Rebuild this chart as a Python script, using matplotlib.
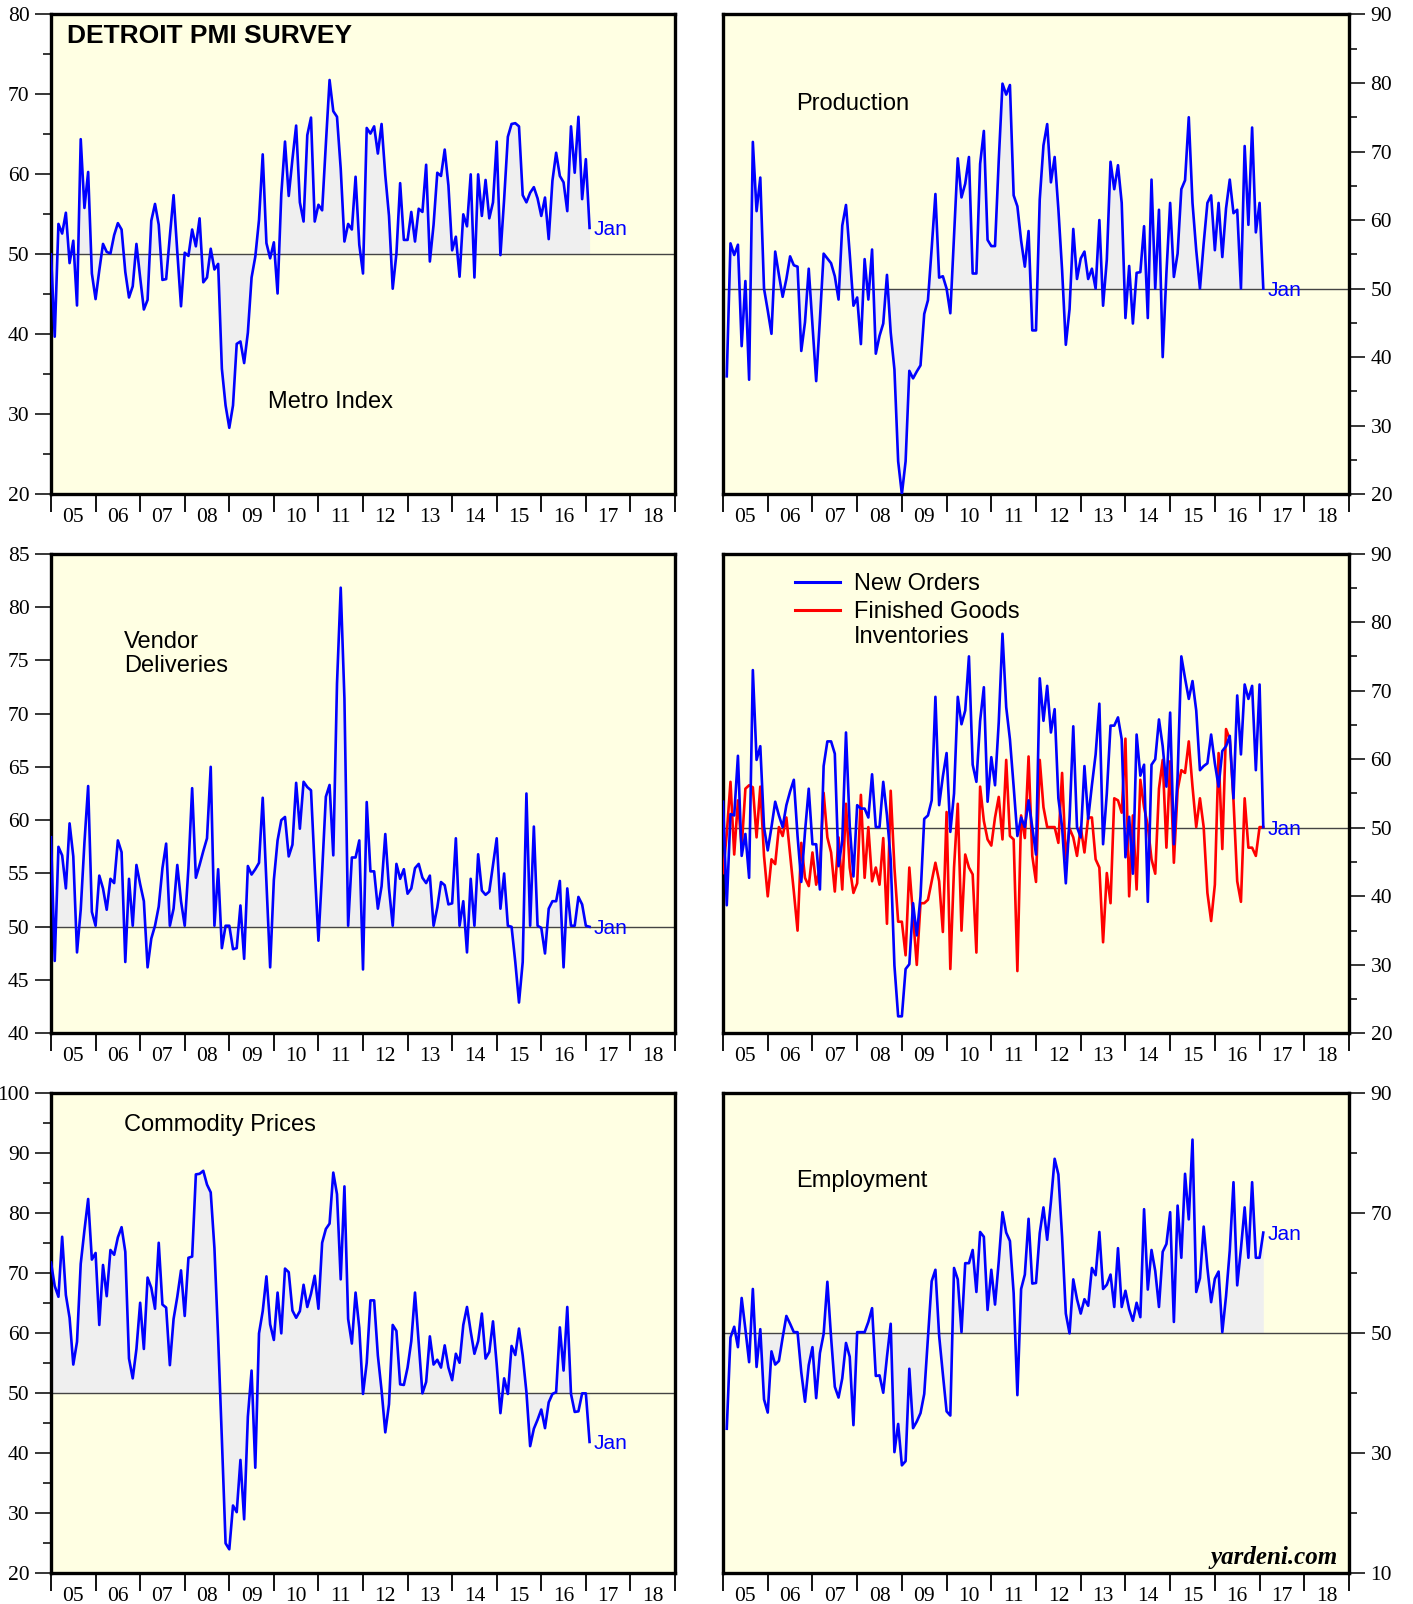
import numpy as np
import pandas as pd
import matplotlib
matplotlib.use("Agg")
import matplotlib.pyplot as plt
from matplotlib.lines import Line2D
from matplotlib.transforms import offset_copy

# Detroit PMI survey, monthly readings
metro = [50.0, 39.7, 53.8, 52.6, 55.2, 48.9, 51.7, 43.6, 64.4, 55.8, 60.3, 47.6,
         44.4, 48.0, 51.3, 50.3, 50.1, 52.4, 53.9, 53.1, 47.8, 44.6, 46.0, 51.3,
         47.1, 43.1, 44.3, 54.2, 56.3, 53.7, 46.8, 46.9, 52.3, 57.4, 50.3, 43.5,
         50.2, 49.8, 53.1, 51.0, 54.5, 46.5, 47.1, 50.7, 48.1, 48.8, 35.7, 31.1,
         28.3, 31.1, 38.8, 39.1, 36.4, 40.2, 47.1, 49.7, 54.3, 62.5, 51.4, 49.5,
         51.5, 45.1, 57.5, 64.1, 57.3, 61.9, 66.1, 56.5, 54.1, 64.9, 67.1, 54.1,
         56.2, 55.5, 63.8, 71.8, 67.9, 67.2, 60.7, 51.6, 53.8, 53.1, 59.7, 51.2,
         47.6, 65.8, 65.1, 66.0, 62.6, 66.3, 59.9, 54.8, 45.7, 50.1, 58.9, 51.8,
         51.8, 55.3, 51.6, 55.7, 55.3, 61.2, 49.1, 53.7, 60.2, 59.8, 63.1, 58.6,
         50.5, 52.2, 47.2, 55.0, 53.5, 60.0, 47.1, 60.0, 54.8, 59.3, 54.5, 56.5,
         64.1, 49.9, 56.9, 64.7, 66.3, 66.4, 66.0, 57.4, 56.5, 57.7, 58.4, 57.0,
         54.8, 57.1, 51.9, 59.2, 62.7, 59.8, 59.0, 55.4, 66.0, 60.2, 67.2, 56.9,
         61.9, 53.3]

production = [37.2, 56.6, 54.9, 56.4, 41.6, 51.1, 36.7, 71.4, 61.3, 66.2, 50.0, 46.8,
              43.4, 55.4, 52.0, 48.8, 51.4, 54.7, 53.4, 53.2, 40.9, 45.1, 52.9, 44.8,
              36.5, 45.5, 55.1, 54.4, 53.7, 51.8, 48.4, 59.2, 62.2, 55.1, 47.5, 48.7,
              41.9, 54.3, 48.4, 55.7, 40.5, 43.1, 44.9, 52.0, 43.6, 38.2, 24.8, 20.0,
              24.8, 38.0, 36.9, 37.9, 38.8, 46.3, 48.3, 55.9, 63.8, 51.6, 51.8, 50.0,
              46.4, 57.6, 69.0, 63.3, 65.3, 69.2, 52.2, 52.2, 68.2, 73.0, 57.1, 56.2,
              56.2, 68.7, 79.9, 78.3, 79.7, 63.6, 62.0, 57.0, 53.2, 58.4, 43.9, 43.9,
              63.0, 70.9, 74.0, 65.5, 69.2, 61.6, 52.7, 41.8, 47.0, 58.7, 51.4, 54.4,
              55.4, 51.4, 52.9, 50.0, 60.0, 47.5, 54.2, 68.5, 64.5, 68.0, 62.5, 45.7,
              53.3, 44.9, 52.3, 52.4, 59.1, 45.7, 65.9, 50.0, 61.5, 40.0, 52.3, 62.5,
              51.7, 55.1, 64.5, 65.8, 75.0, 62.5, 55.6, 50.0, 56.6, 62.5, 63.6, 55.6,
              62.5, 54.6, 61.7, 65.9, 61.0, 61.5, 50.0, 70.8, 59.3, 73.5, 58.2, 62.5,
              50.0]

vendor = [58.4, 46.8, 57.5, 56.7, 53.6, 59.7, 56.6, 47.6, 51.6, 57.9, 63.2, 51.4,
          50.1, 54.8, 53.6, 51.6, 54.5, 54.1, 58.1, 57.0, 46.7, 54.5, 50.1, 55.8,
          54.0, 52.4, 46.2, 48.9, 50.1, 51.9, 55.5, 57.8, 50.1, 51.7, 55.8, 52.4,
          50.1, 55.5, 63.0, 54.6, 55.8, 57.1, 58.3, 65.0, 50.1, 55.4, 48.0, 50.1,
          50.1, 47.9, 48.0, 52.0, 47.0, 55.7, 54.9, 55.4, 56.0, 62.1, 54.1, 46.2,
          54.4, 58.1, 60.0, 60.3, 56.6, 57.7, 63.5, 59.2, 63.6, 63.1, 62.8, 55.5,
          48.7, 55.2, 62.2, 63.3, 56.7, 72.8, 81.8, 71.4, 50.1, 56.5, 56.5, 58.1,
          46.0, 61.7, 55.2, 55.2, 51.7, 53.8, 58.7, 53.6, 50.1, 55.9, 54.5, 55.4,
          53.1, 53.6, 55.5, 55.9, 54.6, 54.1, 54.8, 50.1, 51.8, 54.2, 53.9, 52.1,
          52.2, 58.3, 50.1, 52.4, 47.6, 54.5, 50.1, 56.8, 53.4, 53.0, 53.3, 55.8,
          58.3, 51.7, 55.0, 50.1, 50.0, 46.7, 42.9, 46.7, 62.5, 50.1, 59.4, 50.1,
          49.9, 47.5, 51.7, 52.4, 52.4, 54.3, 46.2, 53.6, 50.1, 50.1, 52.8, 52.1,
          50.1, 50.0]

new_orders = [53.8, 38.7, 52.0, 51.8, 60.5, 45.9, 49.1, 42.7, 73.0, 59.9, 61.9, 50.1,
              46.7, 50.1, 53.8, 51.8, 50.1, 53.3, 55.3, 57.0, 48.8, 42.1, 49.4, 55.7,
              47.6, 47.6, 41.0, 59.0, 62.6, 62.6, 60.8, 44.4, 48.1, 63.9, 50.3, 42.9,
              53.3, 52.8, 52.8, 51.5, 57.8, 50.1, 50.1, 56.7, 51.8, 45.4, 29.9, 22.5,
              22.5, 29.4, 30.1, 39.0, 34.3, 40.0, 51.3, 51.8, 54.0, 69.1, 53.3, 57.5,
              60.9, 49.4, 55.0, 69.1, 65.1, 67.1, 75.0, 59.2, 56.7, 65.6, 70.5, 53.8,
              60.3, 56.2, 65.4, 78.3, 67.6, 62.9, 56.0, 48.8, 51.5, 50.1, 54.0, 50.1,
              46.1, 71.8, 65.6, 70.7, 63.9, 67.3, 54.3, 50.1, 41.9, 51.3, 64.8, 50.1,
              48.6, 59.0, 51.3, 56.2, 60.7, 68.1, 47.6, 55.0, 64.9, 64.9, 66.1, 62.9,
              45.7, 51.6, 43.3, 63.6, 57.6, 59.2, 39.2, 59.2, 60.0, 65.8, 61.9, 56.0,
              66.8, 47.6, 57.5, 75.0, 71.8, 68.8, 71.4, 67.1, 58.4, 59.0, 59.4, 63.6,
              59.4, 56.0, 61.2, 61.9, 63.4, 54.3, 69.3, 60.7, 70.9, 68.8, 70.7, 58.4,
              70.9, 50.1]

finished_goods = [43.4, 49.1, 56.7, 46.1, 54.0, 47.1, 55.7, 56.2, 55.9, 48.6, 56.0, 45.9,
                  40.0, 45.4, 44.7, 50.1, 48.8, 51.5, 46.1, 40.7, 35.0, 47.8, 42.7, 41.5,
                  46.4, 41.7, 44.2, 55.1, 48.6, 46.4, 40.7, 48.6, 41.0, 53.5, 44.2, 40.5,
                  41.9, 54.8, 42.7, 50.1, 42.2, 44.2, 41.7, 48.5, 36.0, 55.4, 44.2, 36.3,
                  36.3, 31.4, 44.2, 37.0, 30.0, 39.0, 39.0, 39.5, 42.2, 44.9, 42.2, 34.8,
                  52.3, 29.4, 44.2, 53.5, 35.0, 46.1, 44.2, 43.2, 31.8, 56.0, 51.0, 48.3,
                  47.4, 51.5, 54.5, 48.3, 59.9, 48.8, 48.3, 29.1, 51.8, 48.5, 60.4, 45.9,
                  42.1, 59.9, 53.0, 50.1, 50.1, 50.1, 47.8, 58.0, 45.4, 49.9, 48.6, 45.9,
                  50.1, 46.4, 51.5, 51.5, 45.4, 44.2, 33.3, 43.4, 39.0, 54.3, 54.0, 52.2,
                  63.0, 40.0, 51.8, 41.0, 57.0, 53.0, 50.3, 45.4, 43.3, 55.7, 59.9, 47.1,
                  59.7, 44.9, 55.5, 58.4, 58.0, 62.6, 56.0, 50.1, 54.3, 50.1, 40.5, 36.4,
                  41.7, 60.9, 46.9, 64.4, 62.9, 54.0, 42.2, 39.2, 54.3, 47.1, 47.1, 45.9,
                  50.1, 50.1]

commodity = [71.7, 67.8, 66.0, 76.0, 66.3, 62.5, 54.7, 58.5, 71.5, 77.1, 82.3, 72.2,
             73.3, 61.3, 71.3, 66.1, 73.8, 73.0, 75.9, 77.6, 73.5, 55.7, 52.4, 57.3,
             65.0, 57.3, 69.2, 67.5, 64.0, 75.0, 64.7, 64.2, 54.6, 62.3, 66.0, 70.4,
             62.8, 72.5, 72.7, 86.4, 86.5, 87.0, 84.7, 83.4, 74.1, 59.1, 42.3, 24.9,
             23.9, 31.2, 30.1, 38.8, 28.9, 46.0, 53.7, 37.5, 59.9, 63.6, 69.4, 61.4,
             58.8, 66.7, 59.9, 70.7, 70.1, 63.7, 62.5, 63.6, 68.0, 64.3, 66.5, 69.5,
             64.0, 75.0, 77.3, 78.2, 86.7, 83.1, 68.9, 84.4, 62.3, 58.2, 66.7, 60.8,
             49.8, 55.0, 65.4, 65.4, 56.2, 50.4, 43.4, 48.1, 61.3, 60.3, 51.4, 51.3,
             54.2, 58.6, 66.7, 58.2, 49.9, 51.8, 59.4, 54.7, 55.5, 54.2, 57.9, 54.2,
             52.1, 56.5, 55.0, 61.3, 64.3, 60.2, 56.5, 58.6, 63.2, 55.7, 56.8, 61.9,
             54.7, 46.6, 52.4, 49.8, 57.8, 56.3, 60.7, 56.2, 50.1, 41.1, 44.0, 45.5,
             47.2, 44.1, 48.4, 49.8, 50.1, 60.9, 53.7, 64.3, 49.8, 46.8, 46.9, 49.9,
             49.9, 41.8]

employment = [34.0, 49.2, 51.0, 47.6, 55.8, 50.6, 45.1, 57.3, 44.3, 50.6, 38.9, 36.7,
              46.9, 44.7, 45.3, 49.2, 52.8, 51.5, 50.1, 50.1, 43.4, 38.5, 44.6, 47.6,
              39.1, 46.6, 49.8, 58.5, 49.2, 41.0, 39.2, 42.4, 48.3, 46.0, 34.6, 50.1,
              50.1, 50.1, 51.8, 54.1, 42.8, 42.9, 40.0, 46.0, 51.5, 30.1, 34.8, 27.9,
              28.6, 44.0, 34.1, 35.2, 36.6, 39.8, 49.2, 58.6, 60.5, 49.5, 43.1, 36.9,
              36.2, 60.8, 58.9, 50.1, 61.6, 61.6, 63.8, 56.8, 66.8, 66.0, 53.8, 60.5,
              54.7, 61.9, 70.1, 66.7, 65.3, 56.6, 39.6, 57.3, 59.7, 69.0, 58.2, 58.3,
              66.6, 70.9, 65.5, 71.8, 79.0, 76.4, 66.0, 53.2, 49.9, 58.9, 55.6, 53.2,
              55.6, 54.5, 60.8, 59.6, 66.8, 57.3, 58.0, 59.7, 54.3, 64.1, 54.3, 57.0,
              53.9, 52.0, 55.0, 52.6, 70.6, 57.2, 63.8, 60.3, 54.3, 63.5, 64.8, 70.1,
              51.8, 71.2, 62.5, 76.5, 68.9, 82.2, 56.8, 59.1, 67.7, 60.8, 55.1, 59.0,
              60.2, 50.1, 56.1, 63.7, 75.1, 57.9, 64.0, 70.9, 62.5, 75.1, 62.5, 62.5,
              66.7]

year_labels = ["05", "06", "07", "08", "09", "10", "11", "12", "13", "14", "15", "16", "17", "18"]

BG = "#FFFFE3"
FILL = "#EFEFEF"
BLUE = "#0000FF"
RED = "#FF0000"
SANS = "Liberation Sans"
SERIF = "Liberation Serif"
TICK_FS = 15.5
LAB_FS = 17


def month_x(start, n):
    # month-end positions in fractional years
    d = pd.date_range(start, periods=n, freq="MS")
    return np.asarray(d.year + d.month / 12.0)


def setup(ax, ylo, yhi, major, minor, side):
    ax.set_facecolor(BG)
    ax.set_xlim(2005, 2019)
    ax.set_ylim(ylo, yhi)
    ax.set_xticks(range(2005, 2020))
    ax.set_xticks(np.arange(2005.5, 2019, 1.0), minor=True)
    ax.set_xticklabels([])
    ax.set_xticklabels(year_labels, minor=True)
    ax.tick_params(axis="x", which="major", direction="out", length=13, width=1.3)
    ax.tick_params(axis="x", which="minor", length=0, pad=10, labelsize=TICK_FS,
                   labelfontfamily=SERIF)
    ax.set_yticks(np.arange(ylo, yhi + 0.1, major))
    if minor:
        ax.set_yticks(np.arange(ylo, yhi + 0.1, minor), minor=True)
    ax.tick_params(axis="y", which="both", direction="out", width=1.1,
                   labelsize=TICK_FS, labelfontfamily=SERIF, pad=4)
    ax.tick_params(axis="y", which="major", length=11.5)
    ax.tick_params(axis="y", which="minor", length=6)
    if side == "right":
        ax.yaxis.tick_right()
    for s in ax.spines.values():
        s.set_linewidth(2.4)
    ax.axhline(50, color="#444444", lw=1.0, zorder=2)


def jan_label(ax, x, y):
    tr = offset_copy(ax.transData, fig=ax.figure, x=4, y=-7.5, units="dots")
    ax.text(x, y, "Jan", color=BLUE, fontsize=15, family=SANS,
            va="baseline", ha="left", transform=tr, zorder=4)


def single(ax, start, vals):
    x = month_x(start, len(vals))
    ax.fill_between(x, vals, 50, color=FILL, lw=0, zorder=1)
    ax.plot(x, vals, color=BLUE, lw=1.9, zorder=3)
    jan_label(ax, x[-1], vals[-1])


def label(ax, x, y, s):
    ax.text(x, y, s, fontsize=LAB_FS, family=SANS, va="baseline", ha="left")


fig = plt.figure(figsize=(14.13, 16.04), dpi=100)
axL1 = fig.add_axes([0.0361, 0.6919, 0.4416, 0.2991])
axR1 = fig.add_axes([0.5117, 0.6919, 0.4430, 0.2991])
axL2 = fig.add_axes([0.0361, 0.3557, 0.4416, 0.2992])
axR2 = fig.add_axes([0.5117, 0.3557, 0.4430, 0.2992])
axL3 = fig.add_axes([0.0361, 0.0195, 0.4416, 0.2992])
axR3 = fig.add_axes([0.5117, 0.0195, 0.4430, 0.2992])

# Metro index
setup(axL1, 20, 80, 10, 5, "left")
single(axL1, "2004-12", metro)
axL1.text(2005.35, 76.37, "DETROIT PMI SURVEY", fontsize=19, fontweight="bold",
          family=SANS, va="baseline", ha="left")
label(axL1, 2009.86, 30.84, "Metro Index")

# Production
setup(axR1, 20, 90, 10, 5, "right")
single(axR1, "2005-01", production)
label(axR1, 2006.63, 76.07, "Production")

# Vendor deliveries
setup(axL2, 40, 85, 5, None, "left")
single(axL2, "2004-12", vendor)
label(axL2, 2006.63, 76.14, "Vendor")
label(axL2, 2006.63, 73.85, "Deliveries")

# New orders and finished goods inventories
setup(axR2, 20, 90, 10, 5, "right")
xn = month_x("2004-12", len(new_orders))
axR2.plot(xn, finished_goods, color=RED, lw=1.9, zorder=3)
axR2.plot(xn, new_orders, color=BLUE, lw=1.9, zorder=4)
jan_label(axR2, xn[-1], new_orders[-1])
handles = [Line2D([], [], color=BLUE, lw=2.2), Line2D([], [], color=RED, lw=2.2)]
axR2.legend(handles, ["New Orders", "Finished Goods"],
            loc="upper left", bbox_to_anchor=(0.115, 0.959), frameon=False,
            prop={"family": SANS, "size": LAB_FS}, handlelength=1.9,
            handletextpad=0.6, labelspacing=0.25, borderpad=0, borderaxespad=0)
axR2.text(0.2097, 0.813, "Inventories", fontsize=LAB_FS, family=SANS,
          va="baseline", ha="left", transform=axR2.transAxes)

# Commodity prices
setup(axL3, 20, 100, 10, 5, "left")
single(axL3, "2004-12", commodity)
label(axL3, 2006.63, 93.65, "Commodity Prices")

# Employment
setup(axR3, 10, 90, 20, 10, "right")
single(axR3, "2005-01", employment)
label(axR3, 2006.63, 74.27, "Employment")
axR3.text(2018.74, 12.6, "yardeni.com", fontsize=18, family=SERIF, fontweight="bold",
          fontstyle="italic", ha="right", va="center")

fig.savefig("out.png", dpi=100, facecolor="white")
